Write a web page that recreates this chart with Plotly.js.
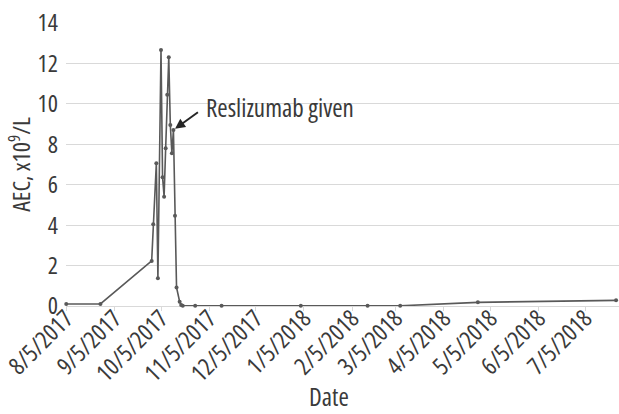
<!DOCTYPE html>
<html>
<head>
<meta charset="utf-8">
<script src="https://cdn.plot.ly/plotly-3.0.1.min.js"></script>
<style>
html,body{margin:0;padding:0;background:#fff;}
#chart{width:619px;height:414px;}
svg text{font-stretch:75% !important;}
</style>
</head>
<body>
<div id="chart"></div>
<script>
// Data
const dates = [
  '2017-08-05','2017-08-27','2017-09-29','2017-09-30','2017-10-02','2017-10-03',
  '2017-10-05','2017-10-06','2017-10-07','2017-10-08','2017-10-09','2017-10-10',
  '2017-10-11','2017-10-12','2017-10-13','2017-10-14','2017-10-15','2017-10-17',
  '2017-10-18','2017-10-19','2017-10-27','2017-11-13','2018-01-03','2018-02-15',
  '2018-03-08','2018-04-27','2018-07-25'
];
const aec = [
  0.10, 0.10, 2.23, 4.04, 7.06, 1.37,
  12.67, 6.37, 5.41, 7.81, 10.45, 12.30,
  8.96, 7.56, 8.71, 4.47, 0.92, 0.21,
  0.05, 0.01, 0.01, 0.01, 0.01, 0.01,
  0.01, 0.18, 0.28
];
const tickDates = ['2017-08-05','2017-09-05','2017-10-05','2017-11-05','2017-12-05','2018-01-05',
  '2018-02-05','2018-03-05','2018-04-05','2018-05-05','2018-06-05','2018-07-05'];
const tickLabels = ['8/5/2017','9/5/2017','10/5/2017','11/5/2017','12/5/2017','1/5/2018',
  '2/5/2018','3/5/2018','4/5/2018','5/5/2018','6/5/2018','7/5/2018'];
const yTicks = [0, 2, 4, 6, 8, 10, 12, 14];
const annotationText = 'Reslizumab given';
const annotatedDate = '2017-10-13';
const annotatedValue = 8.71;

const FONT = '"Open Sans", sans-serif';
const TXT = '#3a3a3a';

const trace = {
  type: 'scatter',
  mode: 'lines+markers',
  x: dates,
  y: aec,
  line: {color: '#595959', width: 1.6},
  marker: {color: '#595959', size: 4},
  cliponaxis: false,
  hoverinfo: 'x+y'
};

const layout = {
  width: 619, height: 414,
  margin: {l: 66, r: 0, t: 23, b: 108},
  paper_bgcolor: '#ffffff',
  plot_bgcolor: '#ffffff',
  showlegend: false,
  font: {family: FONT, size: 24, color: TXT},
  xaxis: {
    type: 'date',
    range: ['2017-08-04 20:00', '2018-07-26 21:00'],
    tickmode: 'array',
    tickvals: tickDates,
    ticktext: tickLabels,
    tickangle: -45,
    showgrid: false,
    zeroline: false,
    showline: false,
    ticks: 'outside',
    ticklen: 4,
    tickwidth: 1,
    tickcolor: '#d9d9d9',
    ticklabelstandoff: -16,
    ticklabeloverflow: 'allow',
    tickfont: {family: FONT, size: 24, color: TXT}
  },
  yaxis: {
    range: [0, 14],
    tickmode: 'array',
    tickvals: yTicks,
    showgrid: true,
    gridcolor: '#d9d9d9',
    gridwidth: 1,
    zeroline: true,
    zerolinecolor: '#d9d9d9',
    zerolinewidth: 1,
    showline: false,
    ticks: '',
    ticklabelstandoff: 7,
    tickfont: {family: FONT, size: 24, color: TXT},
    title: {text: 'AEC, x10<sup>9</sup>/L', font: {family: FONT, size: 24, color: TXT}, standoff: 0}
  },
  annotations: [
    {
      xref: 'x', yref: 'y',
      x: annotatedDate, y: annotatedValue,
      text: ' ',
      font: {size: 1},
      showarrow: true,
      arrowhead: 2,
      arrowsize: 1,
      arrowwidth: 2,
      arrowcolor: '#262626',
      standoff: 2,
      ax: 25, ay: -18,
      borderpad: 0
    },
    {
      xref: 'paper', yref: 'y',
      x: 0.2496, y: 9.85,
      xanchor: 'left', yanchor: 'middle',
      text: annotationText,
      showarrow: false,
      font: {family: FONT, size: 25, color: TXT}
    },
    {
      xref: 'paper', yref: 'paper',
      x: 0.476, y: -0.386,
      xanchor: 'center', yanchor: 'bottom',
      text: 'Date',
      showarrow: false,
      font: {family: FONT, size: 25, color: TXT}
    }
  ]
};

Plotly.newPlot('chart', [trace], layout, {displayModeBar: false, staticPlot: true});
</script>
</body>
</html>
